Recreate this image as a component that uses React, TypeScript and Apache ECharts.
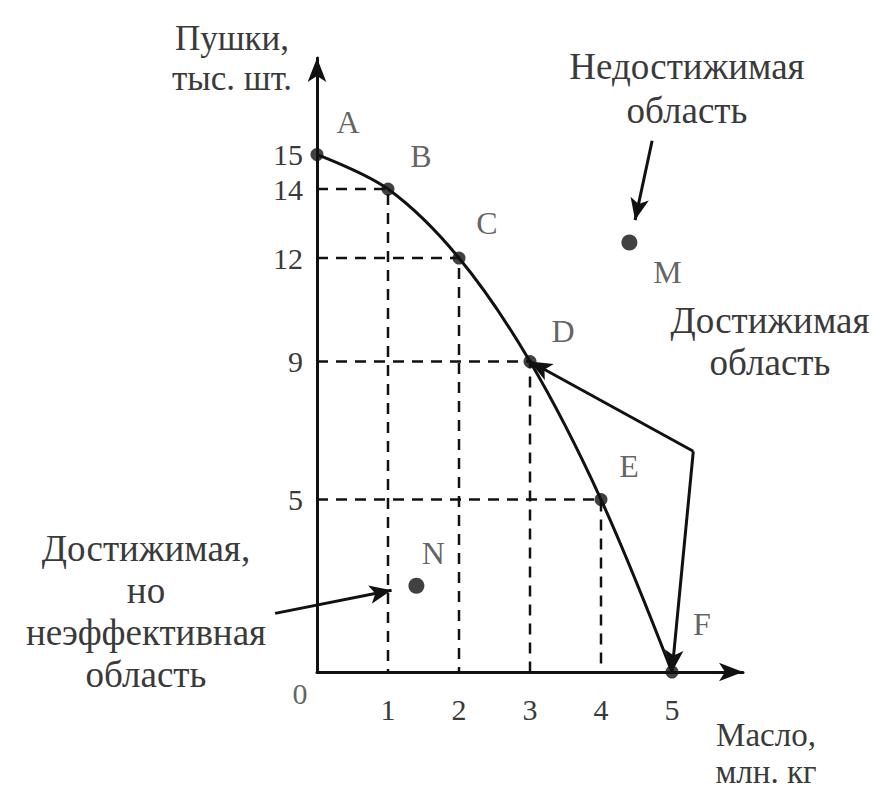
import React, { useEffect, useRef } from 'react';
import * as echarts from 'echarts';

// ---- data ----
const pointNames = ['A', 'B', 'C', 'D', 'E', 'F'];
const butter = [0, 1, 2, 3, 4, 5]; // млн. кг
const guns = [15, 14, 12, 9, 5, 0]; // тыс. шт.
const butterTicks = [1, 2, 3, 4, 5];
const gunTicks = [15, 14, 12, 9, 5];
const pointM = [4.4, 12.45];
const pointN = [1.4, 2.5];
const corner = [5.3, 6.4];
const arrowUnreachable = [[4.72, 15.4], [4.48, 13.1]];
const arrowInefficient = [[-0.59, 1.7], [1.05, 2.37]];

// ---- layout / style ----
const FONT = '"Liberation Serif", "DejaVu Serif", serif';
const TEXT = '#3a3a3a';
const INK = '#111';
const X_MAX = 6;
const Y_MAX = 17.8;
const ORIGIN_X = 317;
const UNIT_X = 71;
const GRID_TOP = 58;
const GRID_BOTTOM = 121;
const ANNOT_X_MIN = -4.4;
const labelOffsets = [
  [31, -33],
  [33, -33],
  [28, -35],
  [33, -31],
  [28, -34],
  [30, -48],
];

export default function App() {
  const ref = useRef<HTMLDivElement>(null);

  useEffect(() => {
    if (!ref.current) return;
    const chart = echarts.init(ref.current, undefined, { renderer: 'svg' });

    const frontier = butter.map((b, i) => [b, guns[i]]);
    const guides = [1, 2, 3, 4].map((i) => ({
      type: 'line',
      xAxisIndex: 0,
      yAxisIndex: 0,
      data: [
        [0, guns[i]],
        [butter[i], guns[i]],
        [butter[i], 0],
      ],
      symbol: 'none',
      silent: true,
      lineStyle: { color: INK, width: 2.5, type: [11, 8] },
      z: 2,
    }));

    const arrowLine = {
      symbol: ['none', 'arrow'],
      symbolSize: [14, 22],
      silent: true,
      label: { show: false },
      emphasis: { disabled: true },
      lineStyle: { color: INK, width: 3, type: 'solid' },
    };

    const plotWidth = X_MAX * UNIT_X;
    const annotLeft = ORIGIN_X + ANNOT_X_MIN * UNIT_X;

    const textBlock = (text: string, x: number, y: number, size: number, lineHeight: number) => ({
      type: 'text',
      silent: true,
      style: {
        text,
        x,
        y,
        align: 'center',
        verticalAlign: 'top',
        lineHeight,
        font: `${size}px ${FONT}`,
        fill: TEXT,
      },
    });

    const option: any = {
      animation: false,
      backgroundColor: '#fff',
      grid: [
        { left: ORIGIN_X, width: plotWidth, top: GRID_TOP, bottom: GRID_BOTTOM, containLabel: false },
        { left: annotLeft, width: (X_MAX - ANNOT_X_MIN) * UNIT_X, top: GRID_TOP, bottom: GRID_BOTTOM, containLabel: false },
      ],
      xAxis: [
        {
          type: 'value',
          gridIndex: 0,
          min: 0,
          max: X_MAX,
          interval: 1,
          axisLine: {
            show: true,
            symbol: ['none', 'arrow'],
            symbolSize: [14, 24],
            lineStyle: { color: INK, width: 3 },
          },
          axisTick: { show: false },
          splitLine: { show: false },
          axisLabel: {
            formatter: (v: number) => (butterTicks.includes(v) ? String(v) : ''),
            margin: 22,
            fontSize: 30,
            fontFamily: FONT,
            color: TEXT,
          },
        },
        { type: 'value', gridIndex: 1, min: ANNOT_X_MIN, max: X_MAX, show: false },
      ],
      yAxis: [
        {
          type: 'value',
          gridIndex: 0,
          min: 0,
          max: Y_MAX,
          interval: 1,
          axisLine: {
            show: true,
            symbol: ['none', 'arrow'],
            symbolSize: [14, 24],
            lineStyle: { color: INK, width: 3 },
          },
          axisTick: { show: false },
          splitLine: { show: false },
          axisLabel: {
            formatter: (v: number) => (gunTicks.includes(v) ? String(v) : ''),
            margin: 14,
            fontSize: 30,
            fontFamily: FONT,
            color: TEXT,
          },
        },
        { type: 'value', gridIndex: 1, min: 0, max: Y_MAX, show: false },
      ],
      graphic: [
        textBlock('Пушки,\nтыс. шт.', 232, 18, 35, 40),
        textBlock('Недостижимая\nобласть', 687, 44, 37, 44),
        textBlock('Достижимая\nобласть', 770, 299, 37, 42),
        textBlock('Достижимая,\nно\nнеэффективная\nобласть', 146, 527, 37, 42),
        textBlock('Масло,\nмлн. кг', 766, 716, 33, 37),
      ],
      series: [
        ...guides,
        {
          type: 'line',
          xAxisIndex: 0,
          yAxisIndex: 0,
          data: frontier,
          smooth: 0.35,
          symbol: 'none',
          silent: true,
          lineStyle: { color: INK, width: 3 },
          z: 3,
          markLine: {
            ...arrowLine,
            data: [
              [{ coord: corner }, { coord: [butter[3], guns[3]] }],
              [{ coord: corner }, { coord: [butter[5], guns[5]] }],
            ],
          },
        },
        {
          type: 'scatter',
          xAxisIndex: 0,
          yAxisIndex: 0,
          data: frontier.map((p, i) => ({
            value: p,
            name: pointNames[i],
            label: { offset: labelOffsets[i] },
          })),
          symbol: 'circle',
          symbolSize: 13,
          silent: true,
          itemStyle: { color: INK },
          label: {
            show: true,
            position: 'inside',
            formatter: (p: any) => p.name,
            fontSize: 32,
            fontFamily: FONT,
            color: TEXT,
          },
          z: 5,
        },
        {
          type: 'scatter',
          xAxisIndex: 0,
          yAxisIndex: 0,
          data: [{ value: [0, 0], name: '0' }],
          symbolSize: 0,
          silent: true,
          label: {
            show: true,
            position: 'inside',
            offset: [-17, 21],
            formatter: (p: any) => p.name,
            fontSize: 30,
            fontFamily: FONT,
            color: TEXT,
          },
        },
        {
          type: 'scatter',
          xAxisIndex: 1,
          yAxisIndex: 1,
          data: [
            { value: pointM, name: 'M', label: { offset: [38, 29] } },
            { value: pointN, name: 'N', label: { offset: [17, -33] } },
          ],
          symbol: 'circle',
          symbolSize: 16,
          silent: true,
          itemStyle: { color: INK },
          label: {
            show: true,
            position: 'inside',
            formatter: (p: any) => p.name,
            fontSize: 32,
            fontFamily: FONT,
            color: TEXT,
          },
          markLine: {
            ...arrowLine,
            data: [
              [{ coord: arrowUnreachable[0] }, { coord: arrowUnreachable[1] }],
              [{ coord: arrowInefficient[0] }, { coord: arrowInefficient[1] }],
            ],
          },
          z: 5,
        },
      ],
    };

    chart.setOption(option);
    return () => chart.dispose();
  }, []);

  return (
    <div
      ref={ref}
      style={{ position: 'fixed', left: 0, top: 0, width: 879, height: 793, background: '#fff' }}
    />
  );
}
